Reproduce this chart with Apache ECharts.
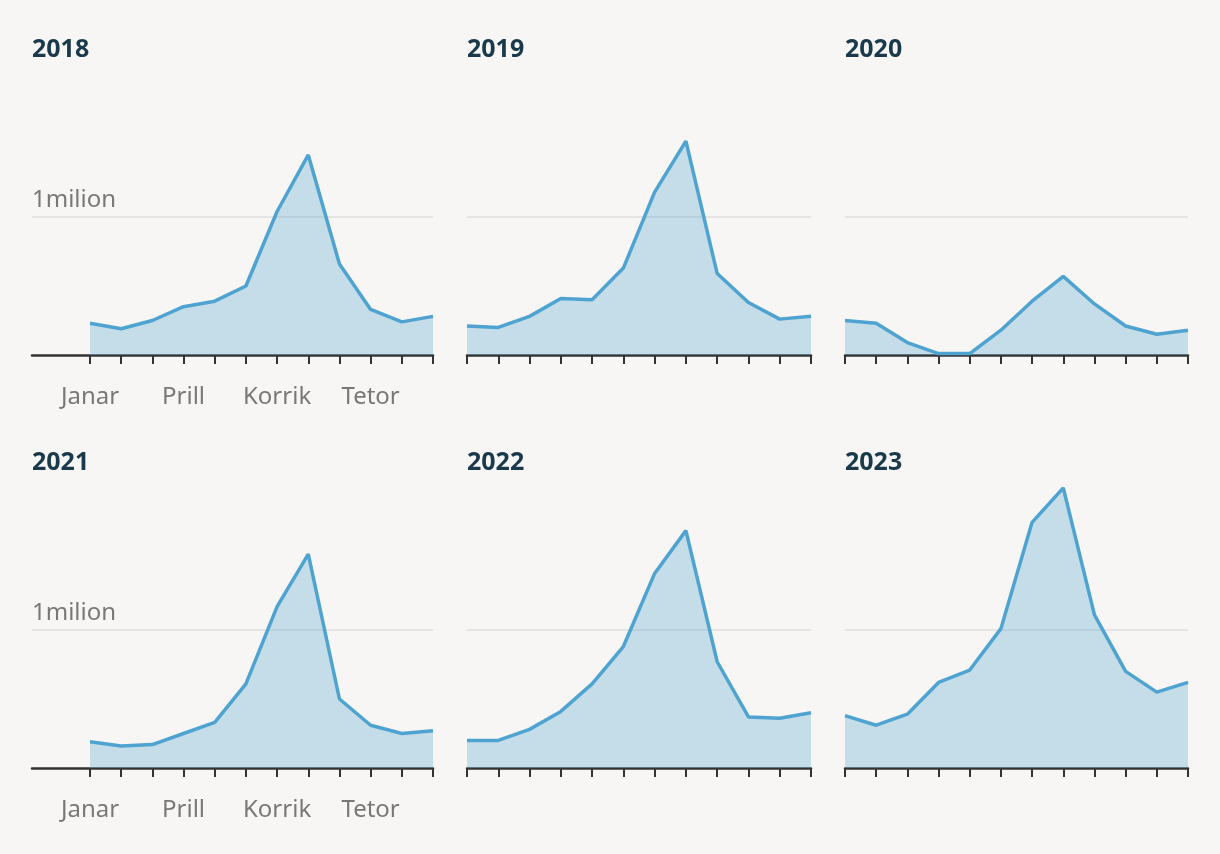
<!DOCTYPE html>
<html>
<head>
<meta charset="utf-8">
<script src="https://cdn.jsdelivr.net/npm/echarts@6/dist/echarts.min.js"></script>
<style>
html,body{margin:0;padding:0;background:#f7f6f4;}
#c{width:1220px;height:854px;}
</style>
</head>
<body>
<div id="c"></div>
<script>
const months = ['Janar','Shkurt','Mars','Prill','Maj','Qershor','Korrik','Gusht','Shtator','Tetor','Nëntor','Dhjetor'];
const years = ['2018','2019','2020','2021','2022','2023'];
// values in millions
const v2018 = [0.23,0.19,0.25,0.35,0.39,0.50,1.04,1.45,0.66,0.33,0.24,0.28];
const v2019 = [0.21,0.20,0.28,0.41,0.40,0.63,1.18,1.55,0.59,0.38,0.26,0.28];
const v2020 = [0.25,0.23,0.09,0.01,0.01,0.18,0.39,0.57,0.37,0.21,0.15,0.18];
const v2021 = [0.19,0.16,0.17,0.25,0.33,0.61,1.17,1.55,0.50,0.31,0.25,0.27];
const v2022 = [0.20,0.20,0.28,0.41,0.61,0.88,1.41,1.72,0.77,0.37,0.36,0.40];
const v2023 = [0.38,0.31,0.39,0.62,0.71,1.01,1.78,2.03,1.11,0.70,0.55,0.62];
const yTickLabel = '1milion';
const labelledMonths = [0,3,6,9];

const seriesValues = [v2018,v2019,v2020,v2021,v2022,v2023];
const FONT = '"Noto Sans", sans-serif';
const LINE = '#4fa3d0';
const cols = [[32,433],[467,811],[845,1188]];
const rows = [{top:65.2,bottom:499},{top:478.2,bottom:86}];
const titleTops = [37,450];

const grid=[],xAxis=[],yAxis=[],series=[],title=[];
years.forEach((yr,i)=>{
  const c=i%3, r=Math.floor(i/3);
  const [l,rt]=cols[c];
  grid.push({left:l,right:1220-rt,top:rows[r].top,bottom:rows[r].bottom,containLabel:false});
  const step=(rt-(c===0?90:l))/11;
  const xmin = c===0 ? -(90-32)/step : 0;
  xAxis.push({
    type:'value',gridIndex:i,min:xmin,max:11,
    axisLine:{show:true,onZero:false,lineStyle:{color:'#333',width:2.5}},
    axisTick:{show:true,customValues:months.map((m,k)=>k),length:9,lineStyle:{color:'#333',width:2}},
    axisLabel:{show:c===0,customValues:labelledMonths,formatter:v=>months[Math.round(v)],
      color:'#7a7876',fontFamily:FONT,fontSize:24,margin:30},
    splitLine:{show:false}
  });
  yAxis.push({
    type:'value',gridIndex:i,min:0,max:2.1,interval:1,
    axisLine:{show:false},axisTick:{show:false},
    axisLabel:{show:c===0,inside:true,margin:0,verticalAlign:'bottom',padding:[0,0,5,0],
      formatter:v=>Math.abs(v-1)<1e-9?yTickLabel:'',color:'#7a7876',fontFamily:FONT,fontSize:24},
    splitLine:{show:true,lineStyle:{color:['rgba(0,0,0,0)','#dfdedc','rgba(0,0,0,0)','rgba(0,0,0,0)','rgba(0,0,0,0)'],width:1.5}}
  });
  series.push({
    type:'line',xAxisIndex:i,yAxisIndex:i,
    data:seriesValues[i].map((v,k)=>[k,v]),
    symbol:'none',lineStyle:{color:LINE,width:3.5},
    areaStyle:{color:LINE,opacity:0.3,origin:'start'},
    clip:false,animation:false
  });
  title.push({text:yr,left:l,top:titleTops[r],padding:0,
    textStyle:{fontFamily:FONT,fontWeight:'bold',fontSize:25,color:'#1a3a4c'}});
});

const chart=echarts.init(document.getElementById('c'),null,{renderer:'canvas'});
chart.setOption({backgroundColor:'#f7f6f4',animation:false,title,grid,xAxis,yAxis,series});
</script>
</body>
</html>
